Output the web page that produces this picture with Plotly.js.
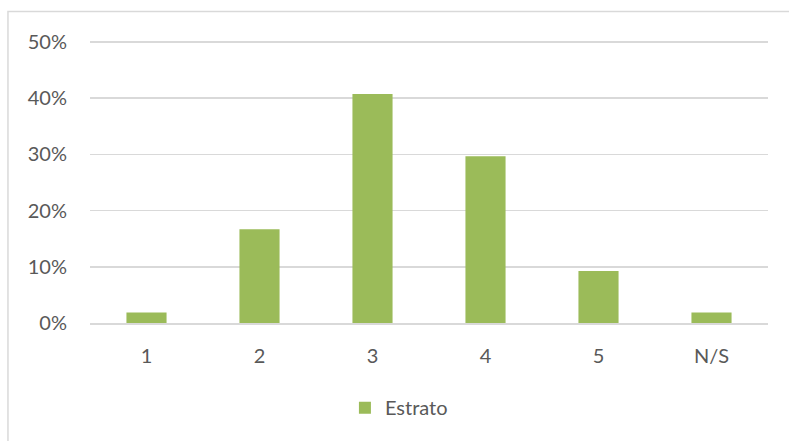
<!DOCTYPE html>
<html>
<head>
<meta charset="utf-8">
<script src="https://cdn.plot.ly/plotly-3.0.1.min.js"></script>
<style>
html,body{margin:0;padding:0;background:#fff;}
#chart{width:789px;height:441px;}
</style>
</head>
<body>
<div id="chart"></div>
<script>
const categories = ["1", "2", "3", "4", "5", "N/S"];
const estrato = [0.0185, 0.1667, 0.4074, 0.2963, 0.0926, 0.0185];
const seriesName = "Estrato";
const yTickVals = [0, 0.1, 0.2, 0.3, 0.4, 0.5];
const yTickText = ["0%", "10%", "20%", "30%", "40%", "50%"];

const fontFam = "Lato, 'Open Sans', sans-serif";
const trace = {
  type: "bar",
  x: categories,
  y: estrato,
  name: seriesName,
  marker: {color: "#9bbb59"},
  width: 0.355,
  hoverinfo: "x+y"
};
// plot area: 0% at y=323.3, 50% at y=42 (px); range extended slightly so top grid line shows
const layout = {
  width: 789, height: 441,
  margin: {l: 90, r: 21, t: 39.2, b: 117.7},
  paper_bgcolor: "#fff", plot_bgcolor: "#fff",
  font: {family: fontFam, size: 20, color: "#595959"},
  showlegend: true,
  legend: {orientation: "h", x: 0.376, xanchor: "left", y: -0.298, yanchor: "middle",
           font: {family: fontFam, size: 20, color: "#595959"}, itemwidth: 30},
  xaxis: {type: "category", showgrid: false, zeroline: false,
          showline: true, linecolor: "#d9d9d9", linewidth: 1.5,
          ticks: "", ticklabelstandoff: 14, tickfont: {size: 20}, fixedrange: true},
  yaxis: {range: [0, 0.505], tickvals: yTickVals, ticktext: yTickText,
          showgrid: true, gridcolor: "#d9d9d9", gridwidth: 1.5,
          zeroline: false, showline: false, ticks: "", ticklabelstandoff: 22,
          tickfont: {size: 20}, fixedrange: true},
  shapes: [{type: "rect", xref: "paper", yref: "paper",
            x0: -0.121, x1: 2, y0: -2, y1: 1.097,
            line: {color: "#d9d9d9", width: 1.5}, fillcolor: "rgba(0,0,0,0)", layer: "below"}]
};
Plotly.newPlot("chart", [trace], layout, {displayModeBar: false, staticPlot: true});
</script>
</body>
</html>
